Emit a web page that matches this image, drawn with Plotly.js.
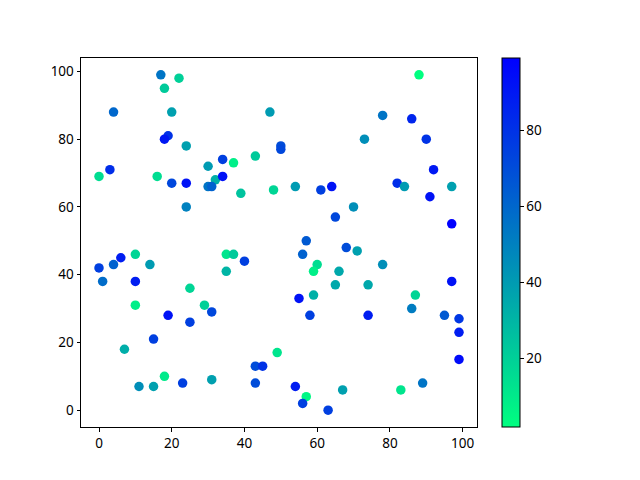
<!DOCTYPE html>
<html>
<head>
<meta charset="utf-8">
<script src="https://cdn.plot.ly/plotly-3.0.1.min.js"></script>
<style>html,body{margin:0;padding:0;background:#fff;}#chart{width:640px;height:480px;}</style>
</head>
<body>
<div id="chart"></div>
<script>
const xs = [17,22,18,4,20,19,18,24,0,3,16,20,24,30,32,30,31,34,34,24,
  47,50,50,37,43,39,48,54,61,64,65,70,57,68,88,78,86,73,90,92,
  82,84,97,91,97,0,4,6,10,14,1,10,25,10,29,31,19,25,15,7,
  18,11,15,23,31,35,37,40,35,56,60,59,66,65,55,59,58,49,43,45,
  43,54,57,56,63,67,71,78,74,97,87,86,95,99,99,74,99,83,89];
const ys = [99,98,95,88,88,81,80,78,69,71,69,67,67,72,68,66,66,74,69,60,
  88,78,77,73,75,64,65,66,65,66,57,60,50,48,99,87,86,80,80,71,
  67,66,66,63,55,42,43,45,46,43,38,38,36,31,31,29,28,26,21,18,
  10,7,7,8,9,46,46,44,41,46,43,41,41,37,33,34,28,17,13,13,
  8,7,4,2,0,6,47,43,37,38,34,30,28,27,23,28,15,6,8];
const cs = [55,20,22,60,38,80,90,38,15,82,15,72,92,40,32,55,62,75,92,50,
  40,70,72,8,22,25,18,40,75,92,72,45,65,70,2,55,85,45,80,90,
  82,40,38,92,99,75,62,88,18,40,58,88,18,8,20,72,92,75,75,33,
  10,45,38,75,38,12,22,75,30,62,15,8,35,35,92,32,75,12,70,80,
  70,88,5,75,75,38,38,45,35,92,18,52,65,78,88,88,95,12,55];
const colorbarTicks = [20,40,60,80];
const xTicks = [0,20,40,60,80,100];
const yTicks = [0,20,40,60,80,100];

const cmin = Math.min(...cs), cmax = Math.max(...cs);
const font = {family: "Noto Sans, DejaVu Sans, sans-serif", size: 13.5, color: "#000"};

const trace = {
  type: "scatter", mode: "markers", x: xs, y: ys,
  marker: {
    size: 9.5, color: cs, cmin: cmin, cmax: cmax,
    colorscale: [[0, "rgb(0,255,128)"], [1, "rgb(0,0,255)"]],
    line: {width: 0},
    showscale: true,
    colorbar: {
      x: 1.064, xanchor: "left", y: 0.5, yanchor: "middle",
      len: 1, lenmode: "fraction", thickness: 17.6, thicknessmode: "pixels",
      xpad: 0, ypad: 0, outlinewidth: 1, outlinecolor: "#000",
      tickmode: "array", tickvals: colorbarTicks, ticks: "outside",
      ticklen: 3.5, tickwidth: 1, tickcolor: "#000", tickfont: font
    }
  },
  hoverinfo: "x+y"
};

const axisCommon = {
  showgrid: false, zeroline: false, showline: true, linecolor: "#000", linewidth: 1,
  mirror: true, ticks: "outside", ticklen: 3.5, tickwidth: 1, tickcolor: "#000",
  tickfont: font, tickmode: "array"
};

const layout = {
  width: 640, height: 480,
  margin: {l: 80.7, r: 162.7, t: 58.3, b: 52.7, pad: 0},
  paper_bgcolor: "#fff", plot_bgcolor: "#fff",
  showlegend: false,
  xaxis: Object.assign({}, axisCommon, {range: [-4.95, 103.95], tickvals: xTicks}),
  yaxis: Object.assign({}, axisCommon, {range: [-4.95, 103.95], tickvals: yTicks})
};

Plotly.newPlot("chart", [trace], layout, {displayModeBar: false, staticPlot: true});
</script>
</body>
</html>
